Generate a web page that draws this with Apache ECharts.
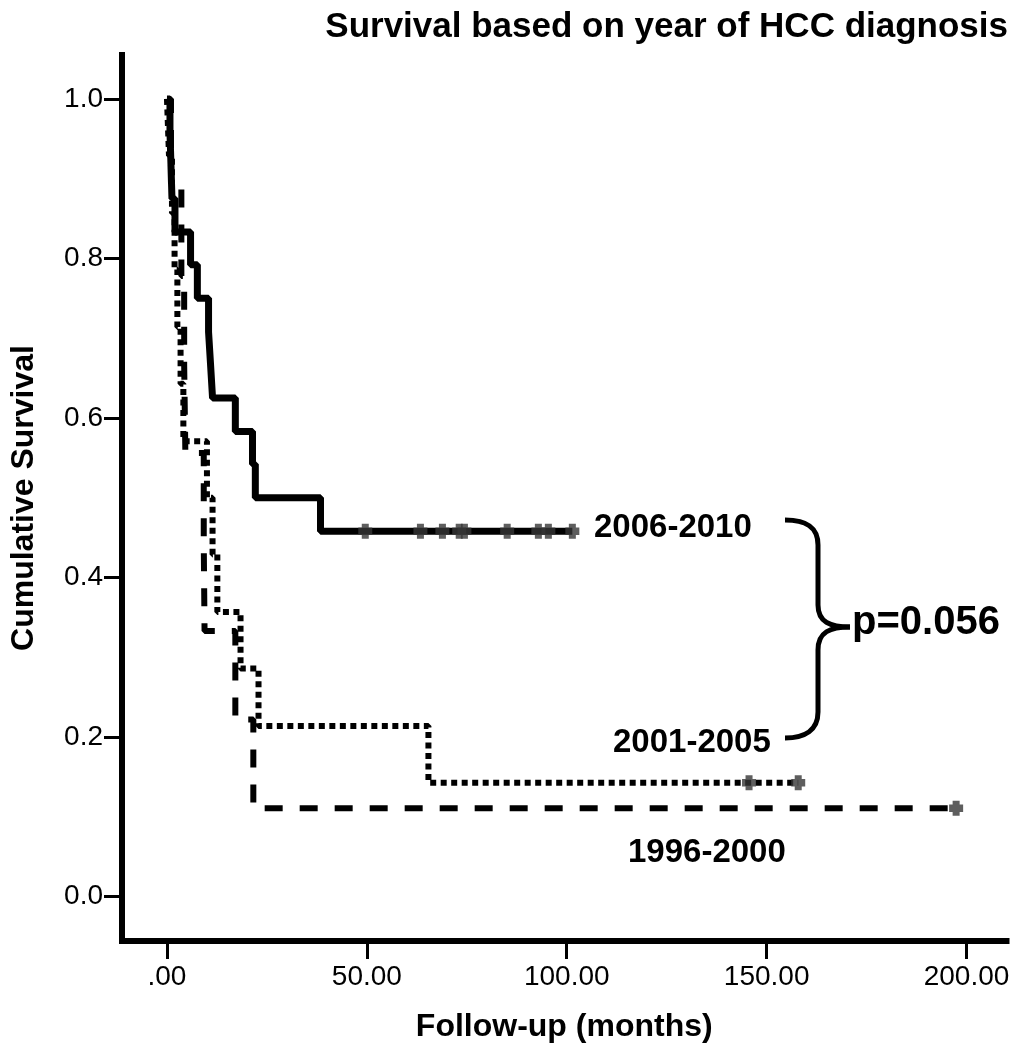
<!DOCTYPE html>
<html>
<head>
<meta charset="utf-8">
<title>Survival based on year of HCC diagnosis</title>
<script src="https://cdn.jsdelivr.net/npm/echarts@6/dist/echarts.min.js"></script>
<style>
  html, body { margin: 0; padding: 0; background: #ffffff; }
  #chart { width: 1015px; height: 1050px; }
</style>
</head>
<body>
<div id="chart"></div>
<script>
// Kaplan-Meier estimates: event times (months) and survival after each drop
const months2006 = [0, 0.75, 1.0, 1.25, 2.0, 5.9, 7.6, 10.4, 10.9, 11.4, 17.1, 21.4, 22.1, 38.4, 101.4];
const surv2006   = [1, 0.958, 0.917, 0.875, 0.833, 0.792, 0.750, 0.708, 0.667, 0.625, 0.583, 0.542, 0.500, 0.458, 0.458];
const censor2006 = [49.6, 63.4, 68.9, 73.1, 74.4, 85.1, 92.9, 95.4, 101.4];

const months2001 = [0, 0.5, 1.25, 1.9, 2.6, 3.4, 4.1, 10.0, 11.4, 12.6, 18.4, 22.9, 65.4, 157.9];
const surv2001   = [1, 0.929, 0.857, 0.786, 0.714, 0.643, 0.571, 0.500, 0.429, 0.357, 0.286, 0.214, 0.143, 0.143];
const censor2001 = [145.6, 157.9];

const months1996 = [0, 1.0, 3.6, 4.3, 4.6, 9.2, 9.4, 17.1, 21.6, 197.4];
const surv1996   = [1, 0.889, 0.778, 0.667, 0.556, 0.444, 0.333, 0.222, 0.111, 0.111];
const censor1996 = [197.4];

const xTicks = [0, 50, 100, 150, 200];
const yTicks = [0, 0.2, 0.4, 0.6, 0.8, 1.0];

const groupNames = ['2006-2010', '2001-2005', '1996-2000'];
const titleText = 'Survival based on year of HCC diagnosis';
const pValueText = 'p=0.056';

const FONT = '"Liberation Sans", Arial, sans-serif';

function pairs(xs, ys) {
  return xs.map((x, i) => [x, ys[i]]);
}

// survival level in effect at time t (right-continuous step)
function levelAt(xs, ys, t) {
  let v = ys[0];
  for (let i = 0; i < xs.length; i++) {
    if (xs[i] <= t) v = ys[i];
  }
  return v;
}

function censorPoints(xs, ys, cs) {
  return cs.map(t => [t, levelAt(xs, ys, t)]);
}

// heavy plus sign used for censored observations
const plusPath = 'path://M3,0 H9 V3 H12 V9 H9 V12 H3 V9 H0 V3 H3 Z';

const braceStyle = { fill: 'none', stroke: '#000', lineWidth: 5 };
function curve(x1, y1, cx1, cy1, cx2, cy2, x2, y2) {
  return { type: 'bezierCurve', shape: { x1, y1, cpx1: cx1, cpy1: cy1, cpx2: cx2, cpy2: cy2, x2, y2 }, style: braceStyle };
}
function segment(x1, y1, x2, y2) {
  return { type: 'line', shape: { x1, y1, x2, y2 }, style: braceStyle };
}

function censorSeries(name, points) {
  return {
    name: name,
    type: 'scatter',
    symbol: plusPath,
    symbolSize: [14, 15],
    data: points,
    itemStyle: { color: '#363636' },
    z: 5
  };
}

const chart = echarts.init(document.getElementById('chart'), null, { renderer: 'canvas' });

const option = {
  animation: false,
  backgroundColor: '#ffffff',
  title: {
    text: titleText,
    right: 7,
    top: 10,
    padding: 0,
    textStyle: { fontFamily: FONT, fontSize: 35, fontWeight: 'bold', color: '#000' }
  },
  grid: { left: 121.5, right: 8.5, top: 55, bottom: 109, containLabel: false },
  xAxis: {
    type: 'value',
    min: -11.25,
    max: 210,
    name: 'Follow-up (months)',
    nameLocation: 'middle',
    nameGap: 70,
    nameTextStyle: { fontFamily: FONT, fontSize: 32, fontWeight: 'bold', color: '#000' },
    axisLine: { show: true, onZero: false, lineStyle: { color: '#000', width: 6, cap: 'square' } },
    axisTick: { show: true, inside: false, length: 18, customValues: xTicks, lineStyle: { color: '#000', width: 3 } },
    axisLabel: {
      show: true, margin: 22, customValues: xTicks,
      fontFamily: FONT, fontSize: 28, color: '#000',
      formatter: v => (v === 0 ? '.00' : v.toFixed(2))
    },
    splitLine: { show: false }
  },
  yAxis: {
    type: 'value',
    min: -0.0555,
    max: 1.055,
    name: 'Cumulative Survival',
    nameLocation: 'middle',
    nameGap: 82,
    nameRotate: 90,
    nameTextStyle: { fontFamily: FONT, fontSize: 32, fontWeight: 'bold', color: '#000' },
    axisLine: { show: true, onZero: false, lineStyle: { color: '#000', width: 6, cap: 'square' } },
    axisTick: { show: true, inside: false, length: 18, customValues: yTicks, lineStyle: { color: '#000', width: 3 } },
    axisLabel: {
      show: true, margin: 19, customValues: yTicks,
      fontFamily: FONT, fontSize: 28, color: '#000',
      formatter: v => v.toFixed(1)
    },
    splitLine: { show: false }
  },
  series: [
    {
      name: groupNames[2],
      type: 'line',
      step: 'end',
      symbol: 'none',
      data: pairs(months1996, surv1996),
      lineStyle: { color: '#000', width: 6, type: [18, 17] },
      z: 2
    },
    {
      name: groupNames[1],
      type: 'line',
      step: 'end',
      symbol: 'none',
      data: pairs(months2001, surv2001),
      lineStyle: { color: '#000', width: 6, type: [6, 4.5] },
      z: 3
    },
    {
      name: groupNames[0],
      type: 'line',
      step: 'end',
      symbol: 'none',
      data: pairs(months2006, surv2006),
      lineStyle: { color: '#000', width: 7 },
      z: 4
    },
    censorSeries(groupNames[0] + ' censored', censorPoints(months2006, surv2006, censor2006)),
    censorSeries(groupNames[1] + ' censored', censorPoints(months2001, surv2001, censor2001)),
    censorSeries(groupNames[2] + ' censored', censorPoints(months1996, surv1996, censor1996))
  ],
  graphic: [
    {
      type: 'text', left: 594, top: 511,
      style: { text: groupNames[0], font: 'bold 33px ' + FONT, fill: '#000' }
    },
    {
      type: 'text', left: 613, top: 726,
      style: { text: groupNames[1], font: 'bold 33px ' + FONT, fill: '#000' }
    },
    {
      type: 'text', left: 628, top: 836,
      style: { text: groupNames[2], font: 'bold 33px ' + FONT, fill: '#000' }
    },
    {
      type: 'text', left: 852, top: 603,
      style: { text: pValueText, font: 'bold 40px ' + FONT, fill: '#000' }
    },
    // curly brace joining the two compared groups
    curve(785, 520, 805, 520, 818, 526, 818, 545),
    segment(818, 545, 818, 605),
    curve(818, 605, 818, 622, 830, 627, 850, 627),
    curve(850, 627, 830, 627, 818, 632, 818, 650),
    segment(818, 650, 818, 712),
    curve(818, 712, 818, 730, 805, 738, 785, 738)
  ]
};

chart.setOption(option);
</script>
</body>
</html>
